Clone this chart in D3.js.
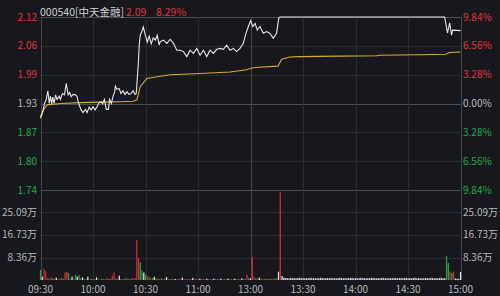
<!DOCTYPE html>
<html>
<head>
<meta charset="utf-8">
<script src="https://cdn.jsdelivr.net/npm/d3@7"></script>
<style>
  html, body { margin: 0; padding: 0; background: #17181d; }
  svg { display: block; }
  text { font-family: "Noto Sans CJK SC", "DejaVu Sans", sans-serif; }
</style>
</head>
<body>
<div id="chart"></div>
<script>
// stock header
let stockName = "000540[中天金融]";
let lastPrice = "2.09";
let lastPct = "8.29%";
let preClose = 1.93;

// axis ticks
let priceTicks = ["2.12", "2.06", "1.99", "1.93", "1.87", "1.80", "1.74"];
let pctTicks = ["9.84%", "6.56%", "3.28%", "0.00%", "3.28%", "6.56%", "9.84%"];
let pctTickVals = [9.84, 6.56, 3.28, 0, -3.28, -6.56, -9.84];
let volTickVals = [25.09, 16.73, 8.36];
let volTicks = ["25.09万", "16.73万", "8.36万"];
let timeTickMins = [0, 30, 60, 90, 120, 150, 180, 210, 240];
let timeTicks = ["09:30", "10:00", "10:30", "11:00", "13:00", "13:30", "14:00", "14:30", "15:00"];

// price line (minute index from 09:30, 0..240)
let priceTime = [0,1.5,2.3,3.2,4.2,5,5.7,6.4,7,7.8,8.6,9.5,10.7,11.4,12.5,13.7,14.7,15.8,16.7,17.5,
  18.6,20,20.9,21.8,23.2,24.3,25.7,26.6,27.8,28.9,30,31.2,32.3,33.5,34.6,35.5,36.5,37.6,38.8,39.5,
  40.5,41.4,42.4,42.8,43.7,44.9,46,47.1,48.3,49.4,50.6,51.7,52.9,54,54.7,55.5,56,56.4,57,58.2,
  58.7,59.9,61,62.1,63.3,64.4,65.6,66.7,67.8,68.4,70.3,72.2,74.1,76,77.9,79.8,81.7,83.6,85.5,87.4,
  89.3,91.2,93.1,95,96.9,98.8,100.7,102.6,104.5,106.4,108.3,110.2,112.1,114,115.9,117.4,118.8,120.1,121.3,122.6,
  123.9,125.4,127.3,129.2,131.1,133,134.9,136.1,136.8,230.9,232.6,233.8,234.9,235.5,240];
let priceValue = [1.900,1.916,1.930,1.938,1.958,1.930,1.946,1.929,1.944,1.930,1.949,1.939,1.946,1.939,1.952,1.949,1.974,1.949,1.954,1.945,
  1.950,1.949,1.945,1.930,1.916,1.910,1.917,1.910,1.922,1.916,1.923,1.916,1.923,1.932,1.934,1.929,1.939,1.917,1.917,1.939,
  1.930,1.945,1.956,1.968,1.961,1.963,1.952,1.958,1.950,1.956,1.950,1.952,1.958,1.950,1.952,1.996,2.025,2.058,2.080,2.091,
  2.098,2.080,2.065,2.078,2.061,2.074,2.069,2.080,2.058,2.066,2.069,2.062,2.071,2.062,2.047,2.047,2.044,2.033,2.047,2.040,
  2.051,2.036,2.047,2.033,2.047,2.040,2.049,2.051,2.049,2.058,2.047,2.051,2.044,2.051,2.062,2.084,2.099,2.112,2.099,2.106,
  2.091,2.099,2.084,2.088,2.084,2.073,2.084,2.117,2.120,2.120,2.085,2.107,2.080,2.091,2.090];

// average price line
let avgTime = [0,1.9,3.8,11.4,22.8,34.2,45.6,53,55.1,57,60.8,68.4,74.1,91.2,108.3,117.8,119.7,122.6,135.7,137.8,142.5,148.2,171,192.1,193.8,216.6,231.5,233.8,240];
let avgValue = [1.897,1.917,1.927,1.930,1.932,1.933,1.934,1.935,1.938,1.967,1.985,1.990,1.993,1.996,1.999,2.004,2.007,2.009,2.012,2.027,2.032,2.033,2.034,2.035,2.036,2.037,2.038,2.042,2.043];

// volume (万) per minute, 09:30..11:30
let volAm = [3.8,1.2,4.2,3.2,0.8,0.5,1.0,0.6,0.4,0.9,
  0.3,0.5,0.8,0.5,2.8,3.0,2.6,0.4,1.3,0.5,
  2.0,1.2,1.8,0.6,1.0,0.4,0.3,1.2,0.3,0.5,
  0.4,0.3,1.0,0.4,0.3,0.5,0.4,0.3,0.8,0.4,
  0.6,1.6,2.8,0.6,0.5,1.6,0.4,0.3,0.5,0.9,
  0.4,0.3,0.6,0.5,0.8,14.9,8.2,6.5,3.5,2.8,
  2.0,1.5,1.0,0.8,0.7,1.2,0.6,0.5,0.4,0.6,
  0.4,0.5,1.1,0.4,0.3,0.5,0.3,0.4,0.3,0.4,
  0.3,0.9,0.3,0.4,0.3,0.4,0.3,0.8,0.3,0.4,
  0.3,0.5,0.3,0.4,0.3,0.5,0.3,0.3,0.4,0.5,
  0.3,0.4,0.3,0.5,0.3,0.4,0.3,0.5,0.3,0.4,
  0.3,0.5,0.3,0.4,0.3,0.6,0.4,0.5,1.9,0.8,
  0.6];
let dirAm = "gwrrrgrgrw" + "grrgrrggwr" + "gwggwrgwrg" + "rgwrrgrgrg" + "rrrgrwgrgr" + "grgrrrrggw" +
  "grgrgwrgrg" + "rgwrgrgwrg" + "rwgrgrgwrg" + "rwgrgwrgrw" + "grgwrgrwgr" + "gwrgrwgrrg" + "w";
// volume per minute, 13:01..15:00
let volPm = [8.5,1.2,0.6,0.5,0.9,0.4,0.5,0.4,0.6,0.4,
  0.5,0.4,0.6,0.5,0.8,3.1,32.7,1.5,0.9,0.7,
  0.7,0.6,0.8,0.6,0.7,0.6,0.7,0.8,0.6,0.7,
  0.6,0.7,0.6,0.8,0.7,0.6,0.7,0.6,0.7,0.8,
  0.7,0.6,0.7,0.7,0.6,0.8,0.6,0.7,0.6,0.7,
  0.8,0.7,0.6,0.7,0.6,0.7,0.7,0.8,0.6,0.7,
  0.6,0.7,0.8,0.6,0.7,0.6,0.7,0.6,0.8,0.7,
  0.7,0.6,0.7,0.6,0.8,0.7,0.6,0.7,0.6,0.7,
  0.6,0.8,0.7,0.6,0.7,0.7,0.6,0.7,0.8,0.6,
  0.7,0.6,0.7,0.8,0.6,0.7,0.6,0.7,0.6,0.7,
  0.7,0.6,0.8,0.7,0.6,0.7,0.6,0.7,0.8,0.6,
  0.7,8.9,6.3,3.1,2.6,3.1,0.6,0.5,0.4,3.0];
let dirPm = "rrgrwgrgrg" + "rgrgrwrwww" + "wwwwwwwwww".repeat(9) + "wggrgrwwww";

const W = 500, H = 296;
const plotL = 40.5, plotR = 460.5, plotT = 17, plotMid = 190, plotB = 280;
const red = "#e2313b", green = "#22a94a", gray = "#b8b8b8";
const colorOf = {r: "#d32a34", g: "#1fa446", w: "#dcdcdc"};

let svg = d3.select("#chart").append("svg").attr("width", W).attr("height", H);
svg.append("rect").attr("width", W).attr("height", H).attr("fill", "#17181d");

let x = d3.scaleLinear().domain([0, 240]).range([plotL, plotR]);
let yPct = d3.scaleLinear().domain([-9.84, 9.84]).range([plotMid, plotT]);
let yPrice = function(p){ return yPct((p / preClose - 1) * 100); };
let yVol = d3.scaleLinear().domain([0, 33.45]).range([plotB, plotMid]);

//grid
let grid = svg.append("g");
grid.selectAll(".hp").data(pctTickVals).enter().append("line")
  .attr("x1", plotL).attr("x2", plotR)
  .attr("y1", d => Math.round(yPct(d)) + 0.5).attr("y2", d => Math.round(yPct(d)) + 0.5)
  .attr("stroke", d => (d === 0 || d === 9.84 || d === -9.84) ? "#4a4c53" : "#2a2c33");
grid.selectAll(".hv").data(volTickVals).enter().append("line")
  .attr("x1", plotL).attr("x2", plotR)
  .attr("y1", d => Math.round(yVol(d)) + 0.5).attr("y2", d => Math.round(yVol(d)) + 0.5)
  .attr("stroke", "#2a2c33");
grid.selectAll(".vt").data(timeTickMins).enter().append("line")
  .attr("x1", d => Math.round(x(d)) + 0.5).attr("x2", d => Math.round(x(d)) + 0.5)
  .attr("y1", plotT).attr("y2", plotB)
  .attr("stroke", d => (d === 0 || d === 120 || d === 240) ? "#44464d" : "#2a2c33");

//volume bars
let bars = [];
volAm.forEach((v, i) => bars.push({m: i, v: v, c: dirAm[i]}));
volPm.forEach((v, i) => bars.push({m: 121 + i, v: v, c: dirPm[i]}));
svg.append("g").selectAll("rect").data(bars).enter().append("rect")
  .attr("x", d => x(d.m) - 0.6)
  .attr("width", 1.3)
  .attr("y", d => yVol(d.v))
  .attr("height", d => plotB - yVol(d.v))
  .attr("fill", d => colorOf[d.c]);

//price + average lines
let line = d3.line().x(d => x(d[0])).y(d => yPrice(d[1]));
svg.append("path")
  .attr("d", line(avgTime.map((t, i) => [t, avgValue[i]])))
  .attr("fill", "none").attr("stroke", "#d7ad2c").attr("stroke-width", 1.1);
svg.append("path")
  .attr("d", line(priceTime.map((t, i) => [t, priceValue[i]])))
  .attr("fill", "none").attr("stroke", "#e8e8e8").attr("stroke-width", 1.1);

//left price labels
svg.append("g").selectAll("text").data(priceTicks).enter().append("text")
  .attr("x", 37).attr("y", (d, i) => yPct(pctTickVals[i]))
  .attr("dy", "0.35em").attr("text-anchor", "end").attr("font-size", 10)
  .attr("fill", (d, i) => pctTickVals[i] > 0 ? red : (pctTickVals[i] < 0 ? green : gray))
  .text(d => d);
//right pct labels
svg.append("g").selectAll("text").data(pctTicks).enter().append("text")
  .attr("x", 463).attr("y", (d, i) => yPct(pctTickVals[i]))
  .attr("dy", "0.35em").attr("font-size", 10)
  .attr("fill", (d, i) => pctTickVals[i] > 0 ? red : (pctTickVals[i] < 0 ? green : gray))
  .text(d => d);
//volume labels
svg.append("g").selectAll("text").data(volTicks).enter().append("text")
  .attr("x", 37).attr("y", (d, i) => yVol(volTickVals[i]))
  .attr("dy", "0.35em").attr("text-anchor", "end").attr("font-size", 10)
  .attr("fill", gray).text(d => d);
svg.append("g").selectAll("text").data(volTicks).enter().append("text")
  .attr("x", 463).attr("y", (d, i) => yVol(volTickVals[i]))
  .attr("dy", "0.35em").attr("font-size", 10)
  .attr("fill", gray).text(d => d);
//time labels
svg.append("g").selectAll("text").data(timeTicks).enter().append("text")
  .attr("x", (d, i) => x(timeTickMins[i])).attr("y", 293)
  .attr("text-anchor", "middle").attr("font-size", 10)
  .attr("fill", gray).text(d => d);

//header
svg.append("text").attr("x", 40).attr("y", 12).attr("dy", "0.35em")
  .attr("font-size", 10.5).attr("fill", "#d0d0d0").text(stockName);
svg.append("text").attr("x", 126).attr("y", 12).attr("dy", "0.35em")
  .attr("font-size", 10.5).attr("fill", red).text(lastPrice);
svg.append("text").attr("x", 156).attr("y", 12).attr("dy", "0.35em")
  .attr("font-size", 10.5).attr("fill", red).text(lastPct);
</script>
</body>
</html>
